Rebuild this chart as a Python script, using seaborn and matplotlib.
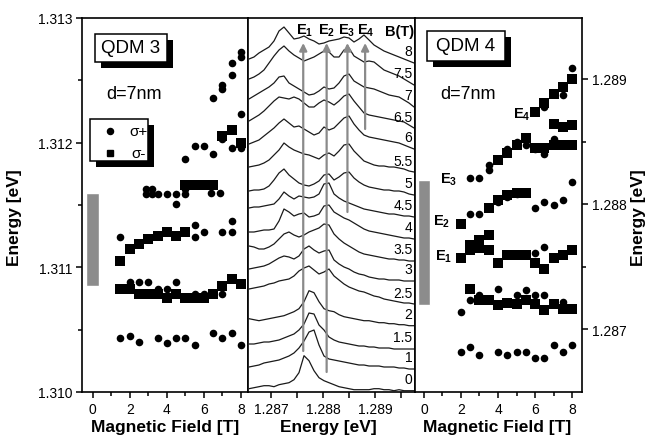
import numpy as np
import pandas as pd
import matplotlib
matplotlib.use("Agg")
import matplotlib.pyplot as plt
import seaborn as sns
from matplotlib.patches import Rectangle

# ---------------- data ----------------
# QDM 3 (left panel): sigma+ (dots) and sigma- (squares)
qdm3_dot_B = [1.5, 2, 2.5, 3.5, 4, 4.5, 5, 5.5, 6.5, 7, 7.5, 8,
              2, 2.5, 3, 3.5, 4, 4.5, 5.5, 6, 7,
              1.5, 5.5, 5.5, 6, 7, 7.5, 7.5,
              2.9, 2.9, 3.2, 3.2, 3.5, 4, 4.5, 4.5, 5, 5, 6.4, 6.9,
              5, 5.5, 6, 6.5, 7, 7.5, 8,
              6.5, 7, 7, 7.5, 7.5, 8, 8, 8]
qdm3_dot_E = [1.31043, 1.31045, 1.31040, 1.31043, 1.31039, 1.31043, 1.31043, 1.31038, 1.31047, 1.31043, 1.31047, 1.31038,
              1.31088, 1.31088, 1.31088, 1.31083, 1.31083, 1.31088, 1.31079, 1.31079, 1.31079,
              1.31124, 1.31134, 1.31124, 1.31128, 1.31128, 1.31128, 1.31137,
              1.31163, 1.31159, 1.31163, 1.31159, 1.31159, 1.31159, 1.31159, 1.31151, 1.31163, 1.31159, 1.31160, 1.31160,
              1.31187, 1.31197, 1.31197, 1.31191, 1.31203, 1.31196, 1.31196,
              1.31236, 1.31243, 1.31246, 1.31254, 1.31264, 1.31269, 1.31273, 1.31223]
qdm3_sq_B = [1.5, 2, 2.5, 3, 3.5, 4, 4.5, 5, 5.5, 6, 6.5, 7, 7.5, 8,
             1.5, 2, 2.5, 3, 3.5, 4, 4.5, 5,
             5, 5.5, 6, 6.5,
             7, 7.5, 8]
qdm3_sq_E = [1.31083, 1.31083, 1.31079, 1.31079, 1.31079, 1.31075, 1.31079, 1.31075, 1.31075, 1.31075, 1.31079, 1.31085, 1.31091, 1.31087,
             1.31105, 1.31115, 1.31119, 1.31123, 1.31125, 1.31128, 1.31125, 1.31128,
             1.31166, 1.31166, 1.31166, 1.31166,
             1.31205, 1.31210, 1.31200]
qdm3_bar = (1.31085, 1.31160)

# QDM 4 (right panel)
qdm4_dot_B = [2, 2.5, 3, 4, 4.5, 5, 5.5, 6, 6.5, 7, 7.5, 8,
              2, 2.5, 3, 4, 5, 5.5, 6, 6.5, 7.5,
              6, 6.5,
              2.5, 3, 3.5, 4, 4.5, 5, 6, 6.5, 7, 7.5, 8,
              2.5, 3, 3.5, 3.5, 4.5, 5, 5.5, 6, 6.5, 7, 7.5,
              6.5, 7.5, 8]
qdm4_dot_E = [1.28682, 1.28686, 1.28679, 1.28682, 1.28679, 1.28682, 1.28682, 1.28677, 1.28677, 1.28687, 1.28682, 1.28687,
              1.28714, 1.28723, 1.28727, 1.28732, 1.28727, 1.28731, 1.28727, 1.28727, 1.28722,
              1.28761, 1.28766,
              1.28792, 1.28792, 1.28797, 1.28802, 1.28806, 1.28808, 1.28797, 1.28802, 1.28799, 1.28803, 1.28818,
              1.28821, 1.28821, 1.28827, 1.28831, 1.28844, 1.28850, 1.28847, 1.28844, 1.28840, 1.28852, 1.28847,
              1.28878, 1.28887, 1.28909]
qdm4_sq_B = [2.5, 3, 3.5, 4, 4.5, 5, 5.5, 6, 6.5, 7, 7.5, 8,
             2, 2.5, 2.5, 3, 3, 3.5, 3.5, 4, 4.5, 5, 5.5, 6, 6.5, 7, 7.5, 8,
             2, 3.5, 4, 4.5, 5, 5.5,
             4, 4.5, 5, 5.5, 6, 6.5, 7, 7.5, 8,
             7, 7.5, 8,
             6, 6.5, 7, 7.5, 8]
qdm4_sq_E = [1.28732, 1.28723, 1.28723, 1.28719, 1.28721, 1.28720, 1.28723, 1.28720, 1.28715, 1.28720, 1.28716, 1.28716,
             1.28757, 1.28767, 1.28763, 1.28771, 1.28765, 1.28775, 1.28763, 1.28753, 1.28759, 1.28759, 1.28759, 1.28753, 1.28748, 1.28757, 1.28759, 1.28763,
             1.28784, 1.28797, 1.28803, 1.28807, 1.28809, 1.28809,
             1.28835, 1.28841, 1.28847, 1.28853, 1.28845, 1.28845, 1.28847, 1.28847, 1.28847,
             1.28864, 1.28862, 1.28863,
             1.28874, 1.28881, 1.28888, 1.28894, 1.28900]
qdm4_bar = (1.28719, 1.28819)

# Middle panel: PL spectra (energy grid in eV, intensity in arbitrary units)
energy_grid = [1.286577, 1.286673, 1.286769, 1.286865, 1.286962, 1.287058, 1.287154, 1.287250,
               1.287346, 1.287442, 1.287538, 1.287635, 1.287731, 1.287827, 1.287923, 1.288019,
               1.288115, 1.288212, 1.288308, 1.288404, 1.288500, 1.288596, 1.288692, 1.288788,
               1.288885, 1.288981, 1.289077, 1.289173, 1.289269, 1.289365, 1.289462, 1.289558,
               1.289654, 1.289750]
spec_0 = [2, 3, 4, 5, 5, 4, 6, 7, 8, 11, 18, 35, 30, 20, 13, 10, 8, 6, 4, 3, 2, 1, 1, 1, 1, 2, 2, 1, 1, 0, 1, 0, 0, 0]
spec_1 = [2, 3, 4, 6, 7, 8, 9, 11, 13, 16, 21, 28, 37, 39, 24, 13, 10, 9, 8, 7, 6, 5, 4, 4, 3, 3, 3, 2, 2, 2, 1, 1, 0, 0]
spec_1_5 = [5, 5, 6, 7, 7, 8, 9, 11, 13, 15, 19, 25, 36, 35, 24, 19, 12, 9, 7, 6, 5, 4, 3, 3, 2, 2, 1, 1, 1, 0, 0, 0, 0, 0]
spec_2 = [7, 6, 5, 6, 7, 8, 9, 10, 12, 14, 17, 24, 35, 33, 24, 17, 15, 14, 11, 9, 8, 7, 6, 5, 5, 4, 3, 3, 2, 2, 1, 1, 0, 0]
spec_2_5 = [15, 16, 17, 18, 20, 21, 23, 24, 25, 28, 33, 36, 38, 34, 30, 32, 35, 28, 24, 20, 17, 15, 13, 12, 10, 8, 7, 5, 4, 3, 2, 1, 1, 0]
spec_3 = [12, 13, 14, 15, 17, 20, 23, 25, 24, 22, 25, 32, 35, 31, 28, 30, 31, 21, 17, 14, 12, 9, 7, 6, 4, 3, 2, 2, 1, 1, 1, 0, 0, 0]
spec_3_5 = [15, 14, 12, 12, 14, 17, 22, 27, 29, 26, 24, 26, 29, 31, 33, 37, 36, 27, 22, 18, 15, 12, 9, 7, 6, 5, 4, 3, 2, 2, 1, 1, 0, 0]
spec_4 = [7, 7, 8, 9, 9, 10, 18, 30, 27, 23, 25, 26, 22, 23, 25, 33, 34, 27, 24, 21, 19, 16, 13, 10, 8, 7, 6, 5, 4, 3, 2, 1, 1, 0]
spec_4_5 = [9, 10, 10, 11, 12, 13, 18, 25, 21, 18, 21, 20, 19, 20, 23, 33, 34, 23, 19, 16, 14, 12, 10, 8, 7, 6, 5, 4, 3, 3, 2, 1, 1, 0]
spec_5 = [4, 5, 5, 6, 9, 15, 22, 26, 20, 16, 12, 10, 9, 11, 14, 20, 21, 15, 18, 22, 23, 17, 13, 10, 8, 7, 6, 5, 5, 4, 4, 3, 1, 0]
spec_5_5 = [5, 6, 7, 9, 12, 17, 22, 29, 25, 22, 20, 18, 17, 15, 13, 17, 19, 16, 21, 27, 28, 21, 16, 11, 9, 7, 6, 6, 5, 5, 4, 3, 1, 0]
spec_6 = [5, 7, 9, 13, 17, 21, 26, 30, 26, 22, 23, 20, 17, 14, 16, 22, 19, 21, 26, 31, 33, 25, 19, 14, 12, 11, 10, 9, 8, 7, 6, 4, 2, 0]
spec_6_5 = [7, 10, 13, 17, 22, 27, 31, 30, 29, 31, 29, 25, 21, 21, 25, 28, 26, 23, 27, 32, 34, 27, 21, 15, 13, 12, 11, 10, 9, 8, 7, 6, 3, 0]
spec_7 = [8, 11, 14, 17, 20, 24, 30, 31, 24, 21, 18, 15, 12, 13, 16, 20, 18, 19, 24, 31, 33, 26, 23, 20, 19, 18, 16, 14, 12, 11, 10, 7, 4, 0]
spec_7_5 = [6, 8, 11, 15, 22, 29, 35, 39, 34, 30, 27, 24, 26, 28, 31, 34, 33, 28, 28, 35, 37, 29, 26, 23, 24, 23, 19, 15, 13, 11, 9, 6, 3, 0]
spec_8 = [4, 6, 10, 13, 16, 22, 32, 36, 30, 24, 25, 27, 24, 22, 19, 20, 22, 23, 24, 26, 25, 21, 24, 28, 23, 18, 15, 12, 10, 8, 6, 4, 2, 0]
spec_B = [0, 1, 1.5, 2, 2.5, 3, 3.5, 4, 4.5, 5, 5.5, 6, 6.5, 7, 7.5, 8]
spec_labels = ["0", "1", "1.5", "2", "2.5", "3", "3.5", "4", "4.5", "5", "5.5", "6", "6.5", "7", "7.5", "8"]
spec_offset = [1.3, 23, 43, 66.3, 88, 111, 131, 153, 175, 197, 220, 243, 264, 285, 307, 329]
spectra = [spec_0, spec_1, spec_1_5, spec_2, spec_2_5, spec_3, spec_3_5, spec_4,
           spec_4_5, spec_5, spec_5_5, spec_6, spec_6_5, spec_7, spec_7_5, spec_8]

# transition markers (arrows) in the middle panel
arrow_E = [1.28762, 1.28807, 1.28847, 1.28881]
arrow_start = [41, 20, 180, 263]
arrow_names = ["1", "2", "3", "4"]

# ---------------- style ----------------
sns.set_style("ticks")
plt.rcParams["font.family"] = ["Liberation Sans", "DejaVu Sans"]
plt.rcParams["mathtext.fontset"] = "custom"
plt.rcParams["mathtext.rm"] = "Liberation Sans"
plt.rcParams["mathtext.bf"] = "Liberation Sans:bold"
plt.rcParams["mathtext.it"] = "Liberation Sans:italic"
for k in ("text.color", "axes.labelcolor", "xtick.color", "ytick.color", "axes.edgecolor"):
    plt.rcParams[k] = "black"

W, H = 651, 439
fig = plt.figure(figsize=(W / 100, H / 100), dpi=100)
fig.patch.set_facecolor("white")


def rect(x0, x1, top=19, bottom=393):
    return [x0 / W, (H - bottom) / H, (x1 - x0) / W, (bottom - top) / H]


axL = fig.add_axes(rect(82, 248))
axM = fig.add_axes(rect(248, 415))
axR = fig.add_axes(rect(415, 582))

for ax in (axL, axM, axR):
    for sp in ax.spines.values():
        sp.set_linewidth(1.2)
        sp.set_color("black")
        sp.set_visible(True)
    ax.set_facecolor("white")

DOT_S = 30
SQ_S = 54
XLAB_Y = -0.072

# ---------- left panel ----------
sns.scatterplot(x=qdm3_sq_B, y=qdm3_sq_E, marker="s", s=SQ_S, color="black", linewidth=0, ax=axL, zorder=3)
sns.scatterplot(x=qdm3_dot_B, y=qdm3_dot_E, marker="o", s=DOT_S, color="black", linewidth=0, ax=axL, zorder=4)
axL.bar([0], [qdm3_bar[1] - qdm3_bar[0]], bottom=[qdm3_bar[0]], width=0.7, color="#8c8c8c", zorder=2)
axL.set_xlim(-0.58, 8.39)
axL.set_ylim(1.310, 1.313)
axL.set_xticks([0, 2, 4, 6, 8])
axL.set_xticklabels(["0", "2", "4", "6", "8"])
axL.set_xticks([1, 3, 5, 7], minor=True)
axL.set_yticks([1.310, 1.311, 1.312, 1.313])
axL.set_yticklabels(["1.310", "1.311", "1.312", "1.313"])
axL.set_yticks([1.3105, 1.3115, 1.3125], minor=True)
axL.tick_params(which="both", direction="out", top=False, right=False, width=1.1, labelsize=10, pad=2.5)
axL.tick_params(which="major", length=4.5)
axL.tick_params(which="minor", length=2.8)
axL.set_xlabel("Magnetic Field [T]", fontsize=12.5, fontweight="bold")
axL.set_ylabel("Energy [eV]", fontsize=12.5, fontweight="bold")
axL.xaxis.set_label_coords(0.5, XLAB_Y)
axL.yaxis.set_label_coords(-0.36, 0.468)

dxL, dyL = 6 / 166, 6 / 374


def shadow_box(ax, x0, y0, w, h, dx, dy):
    ax.add_patch(Rectangle((x0 + dx, y0 - dy), w, h, transform=ax.transAxes,
                           facecolor="black", edgecolor="black", lw=0, zorder=6, clip_on=False))
    ax.add_patch(Rectangle((x0, y0), w, h, transform=ax.transAxes,
                           facecolor="white", edgecolor="black", lw=1.1, zorder=7, clip_on=False))


shadow_box(axL, 0.078, 0.882, 0.434, 0.075, dxL, dyL)
axL.text(0.295, 0.920, "QDM 3", transform=axL.transAxes, ha="center", va="center", fontsize=13.5, zorder=8)
axL.text(0.313, 0.797, "d=7nm", transform=axL.transAxes, ha="center", va="center", fontsize=13, zorder=8)
shadow_box(axL, 0.048, 0.618, 0.349, 0.112, dxL, dyL)
axL.plot([0.169], [0.699], "o", transform=axL.transAxes, ms=4.4, color="black", zorder=8)
axL.plot([0.169], [0.638], "s", transform=axL.transAxes, ms=5.0, color="black", zorder=8)
axL.text(0.34, 0.699, "σ+", transform=axL.transAxes, ha="center", va="center", fontsize=11, zorder=8)
axL.text(0.34, 0.638, "σ-", transform=axL.transAxes, ha="center", va="center", fontsize=11, zorder=8)

# ---------- middle panel ----------
rows = []
for b, off, vals in zip(spec_B, spec_offset, spectra):
    for e, v in zip(energy_grid, vals):
        rows.append((b, e, v + off))
spec_df = pd.DataFrame(rows, columns=["B", "energy", "y"])
sns.lineplot(data=spec_df, x="energy", y="y", units="B", estimator=None, color="#1a1a1a",
             linewidth=0.9, ax=axM, legend=False, zorder=3)
for e, y0 in zip(arrow_E, arrow_start):
    axM.annotate("", xy=(e, 349), xytext=(e, y0),
                 arrowprops=dict(arrowstyle="-|>", color="#8a8a8a", lw=1.6,
                                 mutation_scale=11, shrinkA=0, shrinkB=0), zorder=5)
label_E = [1.287654, 1.288071, 1.288456, 1.288827]
for e, n in zip(label_E, arrow_names):
    axM.text(e, 362, r"$\mathbf{E}_{\mathbf{%s}}$" % n, ha="center", va="center", fontsize=10.5, zorder=6)
axM.text(1.289467, 361, "B(T)", ha="center", va="center", fontsize=10.5, fontweight="bold", zorder=6)
for lab, off in zip(spec_labels, spec_offset):
    axM.text(1.28972, off + 11.5, lab, ha="right", va="center", fontsize=10, zorder=6)
axM.set_xlim(1.286558, 1.289769)
axM.set_ylim(0, 374)
axM.set_yticks([])
axM.set_xticks([1.287, 1.288, 1.289])
axM.set_xticklabels(["1.287", "1.288", "1.289"])
axM.set_xticks([1.2875, 1.2885, 1.2895], minor=True)
axM.tick_params(which="both", direction="out", top=False, left=False, right=False, width=1.1,
                length=4.5, labelsize=10, pad=2.5)
axM.set_ylabel("")
axM.set_xlabel("Energy [eV]", fontsize=12.5, fontweight="bold")
axM.xaxis.set_label_coords(0.48, XLAB_Y)

# ---------- right panel ----------
sns.scatterplot(x=qdm4_sq_B, y=qdm4_sq_E, marker="s", s=SQ_S, color="black", linewidth=0, ax=axR, zorder=3)
sns.scatterplot(x=qdm4_dot_B, y=qdm4_dot_E, marker="o", s=DOT_S, color="black", linewidth=0, ax=axR, zorder=4)
axR.bar([0], [qdm4_bar[1] - qdm4_bar[0]], bottom=[qdm4_bar[0]], width=0.7, color="#8c8c8c", zorder=2)
axR.set_xlim(-0.486, 8.54)
axR.set_ylim(1.286496, 1.289488)
axR.yaxis.tick_right()
axR.yaxis.set_label_position("right")
axR.set_xticks([0, 2, 4, 6, 8])
axR.set_xticklabels(["0", "2", "4", "6", "8"])
axR.set_xticks([1, 3, 5, 7], minor=True)
axR.set_yticks([1.287, 1.288, 1.289])
axR.set_yticklabels(["1.287", "1.288", "1.289"])
axR.set_yticks([1.2875, 1.2885], minor=True)
axR.tick_params(which="both", direction="out", top=False, left=False, right=True, width=1.1,
                labelsize=10, pad=2.5)
axR.tick_params(which="major", length=4.5)
axR.tick_params(which="minor", length=2.8)
axR.set_xlabel("Magnetic Field [T]", fontsize=12.5, fontweight="bold")
axR.set_ylabel("Energy [eV]", fontsize=12.5, fontweight="bold", rotation=90)
axR.xaxis.set_label_coords(0.49, XLAB_Y)
axR.yaxis.set_label_coords(1.295, 0.468)

dxR = 6 / 167
shadow_box(axR, 0.070, 0.886, 0.469, 0.080, dxR, dyL)
axR.text(0.305, 0.926, "QDM 4", transform=axR.transAxes, ha="center", va="center", fontsize=13.5, zorder=8)
axR.text(0.317, 0.797, "d=7nm", transform=axR.transAxes, ha="center", va="center", fontsize=13, zorder=8)
elab_B = [5.28, 1.31, 0.96, 1.04]
elab_E = [1.28872, 1.28820, 1.287866, 1.287586]
elab_n = ["4", "3", "2", "1"]
for b, e, n in zip(elab_B, elab_E, elab_n):
    axR.text(b, e, r"$\mathbf{E}_{\mathbf{%s}}$" % n, ha="center", va="center", fontsize=10.5, zorder=6)

fig.savefig("out.png", dpi=100, facecolor="white")
